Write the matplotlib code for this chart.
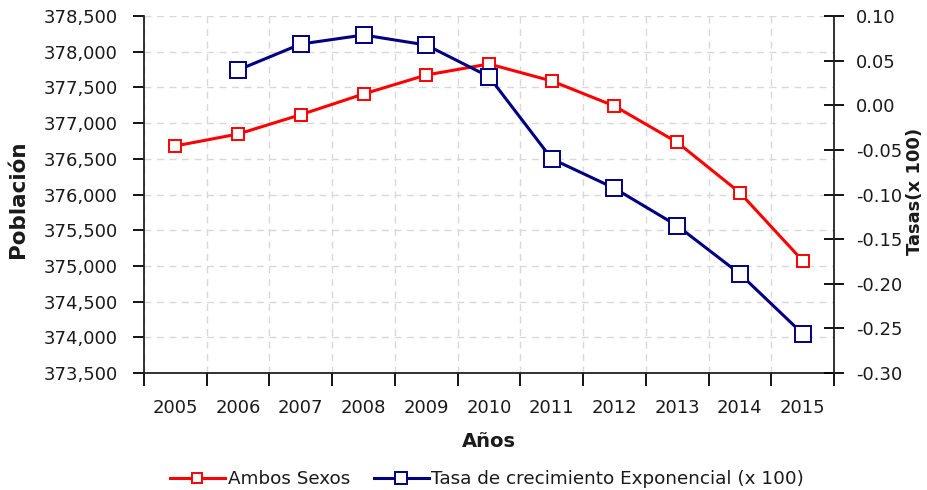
import numpy as np
import matplotlib.pyplot as plt
from matplotlib.ticker import FuncFormatter

years = ['2005', '2006', '2007', '2008', '2009', '2010', '2011', '2012', '2013', '2014', '2015']
poblacion = [376680, 376847, 377118, 377408, 377674, 377828, 377590, 377239, 376731, 376025, 375073]
tasa_years = years[1:]
tasa = [0.0395, 0.0686, 0.0787, 0.0675, 0.032, -0.060, -0.093, -0.135, -0.189, -0.256]

plt.rcParams['font.family'] = 'DejaVu Sans'
txt = '#1a1a1a'

fig = plt.figure(figsize=(9.27, 4.9), dpi=100)
ax = fig.add_axes([144/927, 1 - 373/490, 690/927, 357/490])
ax2 = ax.twinx()

x = np.arange(len(years))
xt = np.arange(1, len(years))

ax.plot(x, poblacion, color='#ff0000', lw=2.2, marker='s', ms=8.5,
        mfc='white', mec='#ff0000', mew=1.4, label='Ambos Sexos', zorder=3)
ax2.plot(xt, tasa, color='#000080', lw=2.2, marker='s', ms=11.5,
         mfc='white', mec='#000080', mew=1.4,
         label='Tasa de crecimiento Exponencial (x 100)', zorder=3)

ax.set_xlim(-0.5, len(years) - 0.5)
ax.set_ylim(373500, 378500)
ax.set_yticks(np.arange(373500, 378501, 500))
ax.yaxis.set_major_formatter(FuncFormatter(lambda v, p: f'{int(round(v)):,}'))
ax2.set_ylim(-0.30, 0.10)
ax2.set_yticks(np.arange(-0.30, 0.101, 0.05))
ax2.yaxis.set_major_formatter(FuncFormatter(lambda v, p: '0.00' if abs(v) < 1e-9 else f'{v:.2f}'))

ax.set_xticks(np.arange(-0.5, len(years), 1.0))
ax.set_xticklabels([])
ax.set_xticks(x, minor=True)
ax.set_xticklabels(years, minor=True)
ax.tick_params(axis='x', which='minor', length=0, pad=19, labelsize=13, labelcolor=txt)
ax.tick_params(axis='x', which='major', direction='out', length=9, width=1.3)
ax.tick_params(axis='y', direction='out', length=8, width=1.3, labelsize=13, labelcolor=txt, pad=11)
ax2.tick_params(axis='y', direction='inout', length=14, width=1.3, labelsize=13, labelcolor=txt, pad=9)

ax.grid(True, which='major', color='#d9d9d9', ls=(0, (5, 4)), lw=1)
ax.set_axisbelow(True)

for s in ['top', 'right']:
    ax.spines[s].set_visible(False)
for s in ['top', 'left', 'bottom']:
    ax2.spines[s].set_visible(False)
for a in [ax, ax2]:
    for s in a.spines.values():
        s.set_linewidth(1.3)
        s.set_color('#222222')

fig.text(18/927, 1 - 199/490, 'Población', rotation=90, ha='center', va='center',
         fontsize=15.5, fontweight='bold', color=txt)
fig.text(915/927, 1 - 191/490, 'Tasas(x 100)', rotation=90, ha='center', va='center',
         fontsize=13, fontweight='bold', color=txt)
fig.text(489/927, 1 - 441/490, 'Años', ha='center', va='center',
         fontsize=14, fontweight='bold', color=txt)

h1, l1 = ax.get_legend_handles_labels()
h2, l2 = ax2.get_legend_handles_labels()
fig.legend(h1 + h2, l1 + l2, loc='center', bbox_to_anchor=(487/927, 1 - 479/490),
           ncol=2, frameon=False, fontsize=13.2, handlelength=3.0, columnspacing=1.3,
           handletextpad=0.15, labelcolor=txt, markerscale=0.8)

fig.savefig('out.png', dpi=100)
